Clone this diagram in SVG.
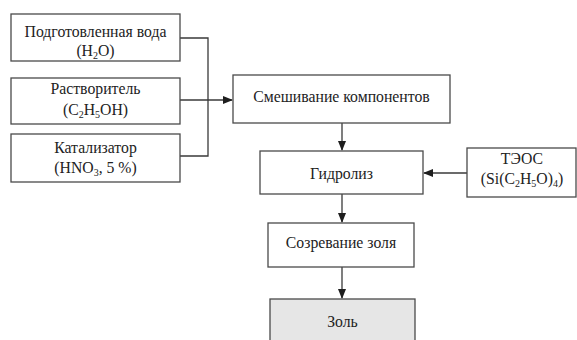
<svg xmlns="http://www.w3.org/2000/svg" width="577" height="340" viewBox="0 0 577 340">
<style>
.box{fill:#fff;stroke:#4a4a4a;stroke-width:1.3}
.grey{fill:#e6e6e6}
.ln{fill:none;stroke:#3a3a3a;stroke-width:1.3}
</style>
<defs>
<marker id="ah" markerWidth="10" markerHeight="8" refX="9" refY="4" orient="auto" markerUnits="userSpaceOnUse">
<path d="M0,0 L10,4 L0,8 Z" fill="#1e1e1e"/>
</marker>
</defs>
<rect width="577" height="340" fill="#fff"/>
<g id="connectors">
<path class="ln" d="M180,38 H208 V156 H180"/>
<path class="ln" d="M180,100 H232" marker-end="url(#ah)"/>
<path class="ln" d="M342,123 V150" marker-end="url(#ah)"/>
<path class="ln" d="M467,173 H424" marker-end="url(#ah)"/>
<path class="ln" d="M342,194 V222" marker-end="url(#ah)"/>
<path class="ln" d="M342,267 V298" marker-end="url(#ah)"/>
</g>
<g font-family="'Liberation Serif', serif" font-size="15.75" fill="#222" text-anchor="middle">
<g id="water">
<rect class="box" x="11" y="14" width="169" height="47"/>
<text x="95.5" y="37">Подготовленная вода</text>
<text x="95.5" y="56">(H<tspan font-size="10" dy="3">2</tspan><tspan dy="-3">O)</tspan></text>
</g>
<g id="solvent">
<rect class="box" x="11" y="78" width="169" height="46"/>
<text x="95.5" y="94">Растворитель</text>
<text x="95.5" y="115">(C<tspan font-size="10" dy="3">2</tspan><tspan dy="-3">H</tspan><tspan font-size="10" dy="3">5</tspan><tspan dy="-3">OH)</tspan></text>
</g>
<g id="catalyst">
<rect class="box" x="11" y="134" width="169" height="48"/>
<text x="95.5" y="153">Катализатор</text>
<text x="95.5" y="173">(HNO<tspan font-size="10" dy="3">3</tspan><tspan dy="-3">, 5 %)</tspan></text>
</g>
<g id="mixing">
<rect class="box" x="233" y="75" width="217" height="48"/>
<text x="341.5" y="102">Смешивание компонентов</text>
</g>
<g id="hydrolysis">
<rect class="box" x="260" y="151" width="163" height="43"/>
<text x="341.5" y="179">Гидролиз</text>
</g>
<g id="teos">
<rect class="box" x="467" y="148" width="109" height="49"/>
<text x="522" y="164">ТЭОС</text>
<text x="522" y="184">(Si(C<tspan font-size="10" dy="3">2</tspan><tspan dy="-3">H</tspan><tspan font-size="10" dy="3">5</tspan><tspan dy="-3">O)</tspan><tspan font-size="10" dy="3">4</tspan><tspan dy="-3">)</tspan></text>
</g>
<g id="ripening">
<rect class="box" x="268" y="223" width="146" height="44"/>
<text x="341" y="248">Созревание золя</text>
</g>
<g id="sol">
<rect class="box grey" x="270" y="299" width="145" height="45"/>
<text x="342.5" y="327">Золь</text>
</g>
</g>
</svg>
